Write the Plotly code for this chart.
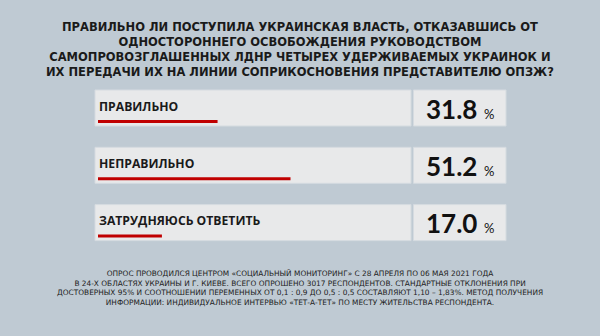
import plotly.graph_objects as go

W, H = 600, 336

categories = ["ПРАВИЛЬНО", "НЕПРАВИЛЬНО", "ЗАТРУДНЯЮСЬ ОТВЕТИТЬ"]
values = [31.8, 51.2, 17.0]
value_labels = ["31.8", "51.2", "17.0"]

title_lines = [
    "ПРАВИЛЬНО ЛИ ПОСТУПИЛА УКРАИНСКАЯ ВЛАСТЬ, ОТКАЗАВШИСЬ ОТ",
    "ОДНОСТОРОННЕГО ОСВОБОЖДЕНИЯ РУКОВОДСТВОМ",
    "САМОПРОВОЗГЛАШЕННЫХ ЛДНР ЧЕТЫРЕХ УДЕРЖИВАЕМЫХ УКРАИНОК И",
    "ИХ ПЕРЕДАЧИ ИХ НА ЛИНИИ СОПРИКОСНОВЕНИЯ ПРЕДСТАВИТЕЛЮ ОПЗЖ?",
]
foot_lines = [
    "ОПРОС ПРОВОДИЛСЯ ЦЕНТРОМ «СОЦИАЛЬНЫЙ МОНИТОРИНГ» С 28 АПРЕЛЯ ПО 06 МАЯ 2021 ГОДА",
    "В 24-Х ОБЛАСТЯХ УКРАИНЫ И Г. КИЕВЕ. ВСЕГО ОПРОШЕНО 3017 РЕСПОНДЕНТОВ. СТАНДАРТНЫЕ ОТКЛОНЕНИЯ ПРИ",
    "ДОСТОВЕРНЫХ 95% И СООТНОШЕНИИ ПЕРЕМЕННЫХ ОТ 0,1 : 0,9 ДО 0,5 : 0,5 СОСТАВЛЯЮТ 1,10 – 1,83%. МЕТОД ПОЛУЧЕНИЯ",
    "ИНФОРМАЦИИ: ИНДИВИДУАЛЬНОЕ ИНТЕРВЬЮ «ТЕТ-А-ТЕТ» ПО МЕСТУ ЖИТЕЛЬСТВА РЕСПОНДЕНТА.",
]

BG = "#BFCAD3"
BOX = "#E8E9EA"
BOXLINE = "#D5DBE0"
RED = "#C00000"
FONT = "Open Sans"

def px(x):
    return x / W

def py(y):
    return 1 - y / H

# layout geometry (pixels)
bar_x0 = 98
full_w = 376          # pixels for 100%
row0 = 121.5         # pixel y of first bar
step = 57.3          # pixel step between rows
bar_px = 3

fig = go.Figure()
fig.add_trace(go.Bar(
    x=values, y=categories, orientation="h",
    marker=dict(color=RED, line=dict(width=0)),
    width=bar_px / step, hoverinfo="skip",
))

top = row0 - step / 2
bot = row0 + step * 2.5
shapes = []
annotations = []
for i, (cat, lab) in enumerate(zip(categories, value_labels)):
    yc = row0 + step * i
    y0, y1 = yc - 31.5, yc + 4.5
    shapes.append(dict(type="rect", xref="paper", yref="paper",
                       x0=px(95), x1=px(411), y0=py(y1), y1=py(y0),
                       fillcolor=BOX, line=dict(color=BOXLINE, width=1), layer="below"))
    shapes.append(dict(type="rect", xref="paper", yref="paper",
                       x0=px(413.5), x1=px(506), y0=py(y1), y1=py(y0),
                       fillcolor=BOX, line=dict(color=BOXLINE, width=1), layer="below"))
    annotations.append(dict(xref="paper", yref="paper", x=px(97), y=py(yc - 15.5),
                            xanchor="left", yanchor="middle", showarrow=False,
                            text="<b>" + cat + "</b>",
                            font=dict(family=FONT, size=12.2, color="#1a1a1a")))
    annotations.append(dict(xref="paper", yref="paper", x=px(460), y=py(yc - 13),
                            xanchor="center", yanchor="middle", showarrow=False,
                            text="<b>" + lab + "</b> <span style='font-size:13px'>%</span>",
                            font=dict(family="Lato", size=26, color="#111111")))

annotations.append(dict(xref="paper", yref="paper", x=0.5, y=py(49.5),
                        xanchor="center", yanchor="middle", showarrow=False,
                        text="<br>".join("<b>" + t + "</b>" for t in title_lines),
                        font=dict(family="DejaVu Sans", size=11.5, color="#1a1a1a")))
annotations.append(dict(xref="paper", yref="paper", x=0.5, y=py(288),
                        xanchor="center", yanchor="middle", showarrow=False,
                        text="<br>".join(foot_lines),
                        font=dict(family="DejaVu Sans", size=7.4, color="#222222")))

fig.update_layout(
    width=W, height=H,
    margin=dict(l=0, r=0, t=0, b=0),
    paper_bgcolor=BG, plot_bgcolor="rgba(0,0,0,0)",
    showlegend=False,
    shapes=shapes, annotations=annotations,
    xaxis=dict(domain=[px(bar_x0), px(bar_x0 + full_w)], range=[0, 100],
               visible=False, fixedrange=True),
    yaxis=dict(domain=[py(bot), py(top)], range=[2.5, -0.5],
               categoryorder="array", categoryarray=categories,
               visible=False, fixedrange=True),
)

fig.write_html("out.html", config={"displayModeBar": False})
